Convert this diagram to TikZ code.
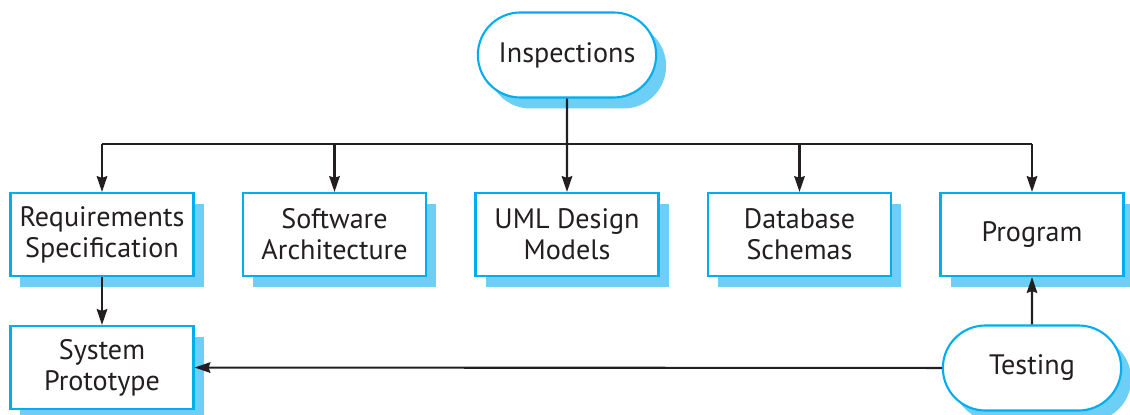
\documentclass[tikz,border=0pt]{standalone}
\usepackage{fontspec}
\setmainfont{PT Sans}
\usepackage{tikz}
\usetikzlibrary{shapes, shapes.misc, arrows.meta, positioning, shadows}
\definecolor{edge}{RGB}{0,174,239}
\definecolor{shade}{RGB}{109,207,246}
\definecolor{ink}{RGB}{35,31,32}
\tikzset{
  block/.style = {rectangle, draw=edge, line width=1.2pt, fill=white, text=ink,
    minimum width=3.66cm, minimum height=1.66cm, align=center,
    font=\fontsize{16}{17.5}\selectfont,
    drop shadow={shadow xshift=0.2cm, shadow yshift=-0.22cm, fill=shade, opacity=1}},
  activity/.style = {block, rounded rectangle, minimum width=3.8cm, minimum height=1.7cm},
  line/.style = {draw, ink, line width=1.2pt, -{Stealth[length=9pt, width=6pt, inset=1pt]}}
}
\begin{document}
\begin{tikzpicture}[node distance=4.65cm, on grid]
\useasboundingbox (0,0) rectangle (22.6,8.28);

% Brief outline
\node [block] (req) at (2.04,3.59) {Requirements\\Specification};
\node [block, right=of req] (arch) {Software\\Architecture};
\node [block, right=of arch] (uml) {UML Design\\Models};
\node [block, right=of uml] (db) {Database\\Schemas};
\node [block, right=of db] (prog) {Program};
\node [block, below=2.66cm of req] (proto) {System\\Prototype};
\node [activity, below=2.67cm of prog] (test) {Testing};
\node [activity, above=3.59cm of uml] (insp) {Inspections};
\coordinate (bus) at (11.34,5.4);

\draw [ink, line width=1.2pt] (req |- bus) -- (prog |- bus);
\path [line] (insp) -- (uml);
\foreach \n in {req, arch, db, prog}
  \path [line] (\n |- bus) -- (\n);
\path [line] (req) -- (proto);
\path [line] (test) -- (prog);
\path [line] (test) -- (proto);
\end{tikzpicture}
\end{document}
